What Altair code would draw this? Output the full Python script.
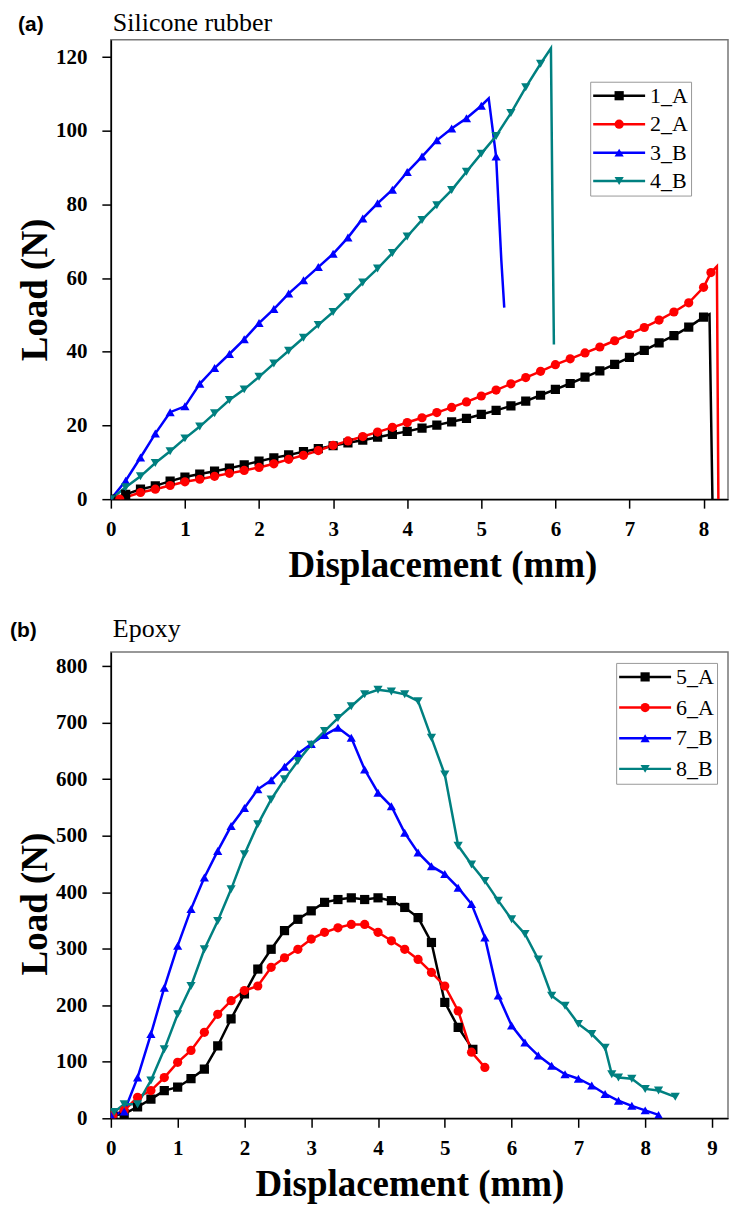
import altair as alt
import pandas as pd

# ---------------- Panel (a): Silicone rubber ----------------
A_SERIES = ["1_A", "2_A", "3_B", "4_B"]
A_COLORS = ["#000000", "#ff0000", "#0000ff", "#008080"]
SHAPES = ["square", "circle", "triangle-up", "triangle-down"]

a1_x = [0.0, 0.2, 0.4, 0.6, 0.8, 1.0, 1.2, 1.4, 1.6, 1.8, 2.0, 2.2, 2.4, 2.6, 2.8, 3.0, 3.2, 3.4, 3.6, 3.8,
        4.0, 4.2, 4.4, 4.6, 4.8, 5.0, 5.2, 5.4, 5.6, 5.8, 6.0, 6.2, 6.4, 6.6, 6.8, 7.0, 7.2, 7.4, 7.6, 7.8, 8.0]
a1_y = [0.0, 1.3, 2.7, 3.6, 4.9, 6.0, 6.8, 7.6, 8.4, 9.3, 10.3, 11.2, 12.0, 12.9, 13.7, 14.5, 15.3, 16.0, 16.8, 17.6,
        18.4, 19.3, 20.1, 21.0, 21.9, 23.0, 24.1, 25.3, 26.6, 28.2, 29.8, 31.4, 33.1, 34.8, 36.6, 38.5, 40.4, 42.4,
        44.4, 46.7, 49.4]
a1_ex = [8.08, 8.12]
a1_ey = [50.2, 0.0]

a2_x = [0.12, 0.4, 0.6, 0.8, 1.0, 1.2, 1.4, 1.6, 1.8, 2.0, 2.2, 2.4, 2.6, 2.8, 3.0, 3.2, 3.4, 3.6, 3.8, 4.0,
        4.2, 4.4, 4.6, 4.8, 5.0, 5.2, 5.4, 5.6, 5.8, 6.0, 6.2, 6.4, 6.6, 6.8, 7.0, 7.2, 7.4, 7.6, 7.8, 8.0, 8.1]
a2_y = [0.0, 1.8, 2.7, 3.7, 4.7, 5.4, 6.2, 7.0, 7.8, 8.6, 9.6, 10.8, 11.9, 13.2, 14.6, 15.8, 17.0, 18.2, 19.5, 20.8,
        22.1, 23.5, 24.9, 26.4, 28.0, 29.6, 31.3, 33.0, 34.7, 36.5, 38.1, 39.7, 41.3, 43.0, 44.7, 46.6, 48.6, 50.8,
        53.3, 57.5, 61.5]
a2_ex = [8.18, 8.2]
a2_ey = [63.2, 0.0]

a3_x = [0.0, 0.2, 0.4, 0.6, 0.8, 1.0, 1.2, 1.4, 1.6, 1.8, 2.0, 2.2, 2.4, 2.6, 2.8, 3.0, 3.2, 3.4, 3.6, 3.8,
        4.0, 4.2, 4.4, 4.6, 4.8, 5.0, 5.2]
a3_y = [0.0, 5.0, 11.3, 17.8, 23.6, 25.2, 31.3, 35.6, 39.4, 43.4, 47.8, 51.6, 55.8, 59.4, 63.0, 66.6, 71.0, 76.2,
        80.3, 84.0, 88.8, 93.0, 97.4, 100.6, 103.4, 106.8, 93.0]
a3_ex = [5.1, 5.27, 5.31]
a3_ey = [108.8, 65.0, 52.0]

a4_x = [0.0, 0.2, 0.4, 0.6, 0.8, 1.0, 1.2, 1.4, 1.6, 1.8, 2.0, 2.2, 2.4, 2.6, 2.8, 3.0, 3.2, 3.4, 3.6, 3.8,
        4.0, 4.2, 4.4, 4.6, 4.8, 5.0, 5.2, 5.4, 5.6, 5.8]
a4_y = [0.0, 3.2, 6.2, 9.8, 13.0, 16.5, 19.7, 23.3, 26.9, 29.8, 33.2, 36.8, 40.3, 43.8, 47.3, 50.8, 54.8, 58.8,
        62.6, 66.8, 71.3, 75.8, 79.8, 83.9, 88.9, 93.8, 98.6, 104.8, 111.8, 118.2]
a4_ex = [5.94, 5.96, 5.98]
a4_ey = [122.4, 80.0, 42.0]

A_XTICKS = [0, 0.5, 1, 1.5, 2, 2.5, 3, 3.5, 4, 4.5, 5, 5.5, 6, 6.5, 7, 7.5, 8]
A_YTICKS = [0, 10, 20, 30, 40, 50, 60, 70, 80, 90, 100, 110, 120]

# ---------------- Panel (b): Epoxy ----------------
B_SERIES = ["5_A", "6_A", "7_B", "8_B"]
B_COLORS = ["#000000", "#ff0000", "#0000ff", "#008080"]

b5_x = [0.03, 0.2, 0.4, 0.6, 0.8, 1.0, 1.2, 1.4, 1.6, 1.8, 2.0, 2.2, 2.4, 2.6, 2.8, 3.0, 3.2, 3.4, 3.6, 3.8,
        4.0, 4.2, 4.4, 4.6, 4.8, 5.0, 5.2, 5.42]
b5_y = [5, 8, 20, 34, 49, 55, 70, 87, 128, 176, 220, 264, 299, 332, 352, 367, 382, 387, 390, 387,
        390, 385, 373, 355, 311, 205, 161, 122]

b6_x = [0.03, 0.2, 0.4, 0.6, 0.8, 1.0, 1.2, 1.4, 1.6, 1.8, 2.0, 2.2, 2.4, 2.6, 2.8, 3.0, 3.2, 3.4, 3.6, 3.8,
        4.0, 4.2, 4.4, 4.6, 4.8, 5.0, 5.2, 5.4, 5.6]
b6_y = [5, 14, 37, 49, 72, 99, 120, 152, 184, 208, 226, 234, 267, 284, 299, 317, 329, 337, 343, 343,
        329, 314, 299, 281, 258, 234, 190, 117, 90]

b7_x = [0.0, 0.2, 0.4, 0.6, 0.8, 1.0, 1.2, 1.4, 1.6, 1.8, 2.0, 2.2, 2.4, 2.6, 2.8, 3.0, 3.2, 3.4, 3.6, 3.8,
        4.0, 4.2, 4.4, 4.6, 4.8, 5.0, 5.2, 5.4, 5.6, 5.8, 6.0, 6.2, 6.4, 6.6, 6.8, 7.0, 7.2, 7.4, 7.6, 7.8,
        8.0, 8.2]
b7_y = [5, 12, 72, 149, 231, 305, 370, 426, 473, 517, 549, 582, 598, 622, 645, 662, 678, 691, 673, 617,
        576, 552, 505, 470, 446, 432, 408, 379, 320, 217, 164, 134, 111, 93, 78, 70, 58, 43, 31, 22,
        14, 6]

b8_x = [0.05, 0.2, 0.4, 0.6, 0.8, 1.0, 1.2, 1.4, 1.6, 1.8, 2.0, 2.2, 2.4, 2.6, 2.8, 3.0, 3.2, 3.4, 3.6, 3.8,
        4.0, 4.2, 4.4, 4.6, 4.8, 5.0, 5.2, 5.4, 5.6, 5.8, 6.0, 6.2, 6.4, 6.6, 6.8, 7.0, 7.2, 7.4, 7.5, 7.6,
        7.8, 8.0, 8.2, 8.45]
b8_y = [11, 25, 25, 67, 122, 184, 234, 299, 349, 405, 467, 520, 564, 600, 632, 661, 685, 708, 729, 750,
        758, 755, 750, 738, 673, 608, 482, 449, 420, 385, 352, 326, 281, 217, 199, 167, 149, 125, 78, 72,
        70, 52, 49, 38]

B_XTICKS = [0, 0.5, 1, 1.5, 2, 2.5, 3, 3.5, 4, 4.5, 5, 5.5, 6, 6.5, 7, 7.5, 8, 8.5, 9]
B_YTICKS = [0, 50, 100, 150, 200, 250, 300, 350, 400, 450, 500, 550, 600, 650, 700, 750, 800]

SERIF = "Liberation Serif"
SANS = "Liberation Sans"


def build_df(series, markers, extras):
    rows = []
    for name, (mx, my), (ex, ey) in zip(series, markers, extras):
        for x, y in zip(mx, my):
            rows.append({"series": name, "x": x, "y": y, "marker": True})
        for x, y in zip(ex, ey):
            rows.append({"series": name, "x": x, "y": y, "marker": False})
    return pd.DataFrame(rows)


df_a = build_df(
    A_SERIES,
    [(a1_x, a1_y), (a2_x, a2_y), (a3_x, a3_y), (a4_x, a4_y)],
    [(a1_ex, a1_ey), (a2_ex, a2_ey), (a3_ex, a3_ey), (a4_ex, a4_ey)],
)
df_b = build_df(
    B_SERIES,
    [(b5_x, b5_y), (b6_x, b6_y), (b7_x, b7_y), (b8_x, b8_y)],
    [([], []), ([], []), ([], []), ([], [])],
)


def panel(df, series, colors, xdom, ydom, xticks, yticks, ymajor, title, tag, tag_x, text_y,
          leg_x, leg_y, leg_row, w, h, xtitle_x, ytitle_y):
    xs = alt.Scale(domain=xdom, nice=False, zero=False)
    ys = alt.Scale(domain=ydom, nice=False, zero=False)
    xaxis = alt.Axis(
        title="Displacement (mm)", values=xticks,
        labelExpr="datum.value % 1 === 0 ? format(datum.value, 'd') : ''",
        tickSize={"condition": {"test": "datum.value % 1 === 0", "value": 9}, "value": 5},
        labelPadding=10, titlePadding=8, labelOverlap=False, labelFlush=False,
        titleX=xtitle_x,
    )
    yaxis = alt.Axis(
        title="Load (N)", values=yticks,
        labelExpr=f"datum.value % {ymajor} === 0 ? format(datum.value, 'd') : ''",
        tickSize={"condition": {"test": f"datum.value % {ymajor} === 0", "value": 9}, "value": 5},
        labelPadding=15, titlePadding=1, labelOverlap=False, labelFlush=False,
        titleY=ytitle_y,
    )
    base = alt.Chart(df)
    lines = base.mark_line(strokeWidth=2.5, clip=True).encode(
        x=alt.X("x:Q", scale=xs, axis=xaxis),
        y=alt.Y("y:Q", scale=ys, axis=yaxis),
        stroke=alt.Stroke(
            "series:N",
            scale=alt.Scale(domain=series, range=colors),
            legend=alt.Legend(
                orient="none", legendX=leg_x, legendY=leg_y, title=None,
                symbolType="M-5,0H5", symbolSize=108.16, symbolStrokeWidth=2.5,
                symbolOffset=15,
                labelFont=SERIF, labelFontSize=22, labelColor="black", labelOffset=20,
                labelLimit=200, rowPadding=leg_row, padding=3, strokeColor="#999999",
            ),
        ),
        detail="series:N",
    )
    points = base.transform_filter("datum.marker").mark_point(
        filled=True, size=85, opacity=1, clip=True
    ).encode(
        x="x:Q",
        y="y:Q",
        color=alt.Color(
            "series:N",
            scale=alt.Scale(range=colors),
            legend=alt.Legend(
                orient="none", legendX=leg_x, legendY=leg_y, title=None,
                symbolSize=85, symbolStrokeWidth=0, symbolOffset=15,
                labelFont=SERIF, labelFontSize=22, labelOpacity=0, labelOffset=20,
                labelLimit=200, rowPadding=leg_row, padding=3,
            ),
        ),
        shape=alt.Shape("series:N", scale=alt.Scale(range=SHAPES)),
    )
    tag_mark = alt.Chart(pd.DataFrame({"tag": [tag]})).mark_text(
        align="left", baseline="alphabetic", font=SANS, fontWeight="bold", fontSize=21, color="black"
    ).encode(text="tag:N", x=alt.value(tag_x), y=alt.value(text_y))
    title_mark = alt.Chart(pd.DataFrame({"title": [title]})).mark_text(
        align="left", baseline="alphabetic", font=SERIF, fontWeight="normal", fontSize=26, color="black"
    ).encode(text="title:N", x=alt.value(2), y=alt.value(text_y))
    return alt.layer(lines, points, tag_mark, title_mark).properties(width=w, height=h)


chart_a = panel(df_a, A_SERIES, A_COLORS, [0, 8.33], [0, 124.7], A_XTICKS, A_YTICKS, 20,
                "Silicone rubber", "(a)", -93, -9, 480, 42, 6.5, 618, 460, 332, 250)
chart_b = panel(df_b, B_SERIES, B_COLORS, [0, 9.24], [0, 825], B_XTICKS, B_YTICKS, 100,
                "Epoxy", "(b)", -101, -15, 506, 11, 8.7, 618, 467, 299, 252)

chart = alt.vconcat(chart_a, chart_b, spacing=31).resolve_scale(
    color="independent", stroke="independent", shape="independent",
    x="independent", y="independent",
).properties(
    padding={"left": 1, "top": 0, "right": 0, "bottom": 0},
).configure_axis(
    labelFont=SERIF, labelFontWeight="bold", labelFontSize=21, labelColor="black",
    titleFont=SERIF, titleFontWeight="bold", titleFontSize=37, titleColor="black",
    tickColor="black", tickWidth=1.5, domainColor="black", domainWidth=1.5, grid=False,
).configure_view(
    stroke="#777777", strokeWidth=1.5,
)

chart.save("out.html", embed_options={"renderer": "svg", "actions": False})
